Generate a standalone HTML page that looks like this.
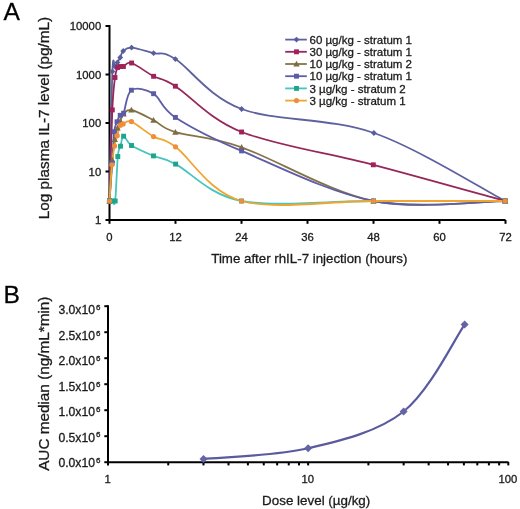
<!DOCTYPE html><html><head><meta charset="utf-8"><style>html,body{margin:0;padding:0;background:#fff;}svg{display:block;filter:blur(0.35px)} text{stroke:#1a1a1a;stroke-width:0.3px;paint-order:stroke}</style></head><body>
<svg width="520" height="509" viewBox="0 0 520 509" font-family="Liberation Sans, sans-serif">
<rect width="520" height="509" fill="#fff"/>
<text x="3.6" y="20.2" font-size="24.6" fill="#000">A</text>
<text x="3.6" y="303.0" font-size="24.6" fill="#000">B</text>
<g stroke="#000" stroke-width="2" fill="none">
<path d="M109.5,25 V220.5 M108.5,220 H505.5"/>
<path d="M105.5,26 H109"/>
<path d="M105.5,74.5 H109"/>
<path d="M105.5,123 H109"/>
<path d="M105.5,171.5 H109"/>
<path d="M105.5,220 H109"/>
<path d="M109.5,220 V223.8"/>
<path d="M175.5,220 V223.8"/>
<path d="M241.5,220 V223.8"/>
<path d="M307.5,220 V223.8"/>
<path d="M373.5,220 V223.8"/>
<path d="M439.5,220 V223.8"/>
<path d="M505.5,220 V223.8"/>
</g>
<text x="101.2" y="30.3" font-size="11.3" text-anchor="end" fill="#1a1a1a">10000</text>
<text x="101.2" y="78.8" font-size="11.3" text-anchor="end" fill="#1a1a1a">1000</text>
<text x="101.2" y="127.3" font-size="11.3" text-anchor="end" fill="#1a1a1a">100</text>
<text x="101.2" y="175.8" font-size="11.3" text-anchor="end" fill="#1a1a1a">10</text>
<text x="101.2" y="224.3" font-size="11.3" text-anchor="end" fill="#1a1a1a">1</text>
<text x="109.5" y="240.9" font-size="11.3" text-anchor="middle" fill="#1a1a1a">0</text>
<text x="175.5" y="240.9" font-size="11.3" text-anchor="middle" fill="#1a1a1a">12</text>
<text x="241.5" y="240.9" font-size="11.3" text-anchor="middle" fill="#1a1a1a">24</text>
<text x="307.5" y="240.9" font-size="11.3" text-anchor="middle" fill="#1a1a1a">36</text>
<text x="373.5" y="240.9" font-size="11.3" text-anchor="middle" fill="#1a1a1a">48</text>
<text x="439.5" y="240.9" font-size="11.3" text-anchor="middle" fill="#1a1a1a">60</text>
<text x="505.5" y="240.9" font-size="11.3" text-anchor="middle" fill="#1a1a1a">72</text>
<text x="309.3" y="262.9" font-size="13.3" text-anchor="middle" fill="#1a1a1a">Time after rhIL-7 injection (hours)</text>
<text transform="translate(48.8,118.0) rotate(-90)" font-size="15.3" text-anchor="middle" fill="#1a1a1a">Log plasma IL-7 level (pg/mL)</text>
<path d="M109.50,201.00 C109.98,179.42 111.48,93.92 112.40,71.50 C113.32,49.08 114.17,68.00 115.00,66.50 C115.83,65.00 116.53,64.00 117.40,62.50 C118.27,61.00 119.23,59.42 120.20,57.50 C121.17,55.58 121.30,52.65 123.20,51.00 C125.10,49.35 126.53,47.23 131.60,47.60 C136.67,47.97 146.30,51.28 153.60,53.20 C160.90,55.12 160.73,49.80 175.40,59.10 C190.07,68.40 208.52,96.68 241.60,109.00 C274.68,121.32 329.97,117.67 373.90,133.00 C417.83,148.33 483.32,189.67 505.20,201.00" fill="none" stroke="#5E619F" stroke-width="1.8"/>
<path d="M109.50,201.00 C109.97,185.82 111.38,130.48 112.30,109.90 C113.22,89.32 114.12,84.57 115.00,77.50 C115.88,70.43 116.72,69.33 117.60,67.50 C118.48,65.67 119.33,66.67 120.30,66.50 C121.27,66.33 121.52,67.08 123.40,66.50 C125.28,65.92 126.57,61.37 131.60,63.00 C136.63,64.63 146.30,72.43 153.60,76.30 C160.90,80.17 160.73,76.92 175.40,86.20 C190.07,95.48 208.62,118.90 241.60,132.00 C274.58,145.10 329.37,153.30 373.30,164.80 C417.23,176.30 483.22,194.97 505.20,201.00" fill="none" stroke="#962759" stroke-width="1.8"/>
<path d="M109.50,201.00 C109.95,194.17 111.32,170.25 112.20,160.00 C113.08,149.75 113.92,144.83 114.80,139.50 C115.68,134.17 116.58,131.08 117.50,128.00 C118.42,124.92 119.30,123.33 120.30,121.00 C121.30,118.67 121.65,115.83 123.50,114.00 C125.35,112.17 126.40,108.98 131.40,110.00 C136.40,111.02 146.17,116.40 153.50,120.10 C160.83,123.80 160.72,127.67 175.40,132.20 C190.08,136.73 208.58,135.83 241.60,147.30 C274.62,158.77 329.57,192.05 373.50,201.00 C417.43,209.95 483.25,201.00 505.20,201.00" fill="none" stroke="#857347" stroke-width="1.8"/>
<path d="M109.50,201.00 C109.95,194.67 111.42,174.55 112.20,163.00 C112.98,151.45 113.40,138.57 114.20,131.70 C115.00,124.83 116.00,124.53 117.00,121.80 C118.00,119.07 119.10,116.73 120.20,115.30 C121.30,113.87 121.73,117.38 123.60,113.20 C125.47,109.02 126.40,93.45 131.40,90.20 C136.40,86.95 146.27,89.17 153.60,93.70 C160.93,98.23 160.73,107.87 175.40,117.40 C190.07,126.93 208.58,136.97 241.60,150.90 C274.62,164.83 329.57,192.65 373.50,201.00 C417.43,209.35 483.25,201.00 505.20,201.00" fill="none" stroke="#5D5DA8" stroke-width="1.8"/>
<path d="M109.50,201.00 C109.98,201.00 111.45,201.00 112.40,201.00 C113.35,201.00 114.30,208.42 115.20,201.00 C116.10,193.58 116.92,165.63 117.80,156.50 C118.68,147.37 119.53,149.58 120.50,146.20 C121.47,142.82 121.77,136.32 123.60,136.20 C125.43,136.08 126.52,142.22 131.50,145.50 C136.48,148.78 146.15,152.80 153.50,155.90 C160.85,159.00 160.93,156.58 175.60,164.10 C190.27,171.62 208.52,194.85 241.50,201.00 C274.48,207.15 329.55,201.00 373.50,201.00 C417.45,201.00 483.25,201.00 505.20,201.00" fill="none" stroke="#46C5BF" stroke-width="1.8"/>
<path d="M109.50,201.00 C109.90,194.97 111.05,173.97 111.90,164.80 C112.75,155.63 113.72,150.85 114.60,146.00 C115.48,141.15 116.23,139.17 117.20,135.70 C118.17,132.23 119.42,127.17 120.40,125.20 C121.38,123.23 121.27,124.50 123.10,123.90 C124.93,123.30 126.33,119.48 131.40,121.60 C136.47,123.72 146.15,132.40 153.50,136.60 C160.85,140.80 160.83,136.07 175.50,146.80 C190.17,157.53 208.50,191.97 241.50,201.00 C274.50,210.03 329.55,201.00 373.50,201.00 C417.45,201.00 483.25,201.00 505.20,201.00" fill="none" stroke="#EFA52F" stroke-width="1.8"/>
<g><path d="M109.50,198.10L112.40,201.00L109.50,203.90L106.60,201.00Z" fill="#5A5D9C"/><path d="M112.40,68.60L115.30,71.50L112.40,74.40L109.50,71.50Z" fill="#5A5D9C"/><path d="M115.00,63.60L117.90,66.50L115.00,69.40L112.10,66.50Z" fill="#5A5D9C"/><path d="M117.40,59.60L120.30,62.50L117.40,65.40L114.50,62.50Z" fill="#5A5D9C"/><path d="M120.20,54.60L123.10,57.50L120.20,60.40L117.30,57.50Z" fill="#5A5D9C"/><path d="M123.20,48.10L126.10,51.00L123.20,53.90L120.30,51.00Z" fill="#5A5D9C"/><path d="M131.60,44.70L134.50,47.60L131.60,50.50L128.70,47.60Z" fill="#5A5D9C"/><path d="M153.60,50.30L156.50,53.20L153.60,56.10L150.70,53.20Z" fill="#5A5D9C"/><path d="M175.40,56.20L178.30,59.10L175.40,62.00L172.50,59.10Z" fill="#5A5D9C"/><path d="M241.60,106.10L244.50,109.00L241.60,111.90L238.70,109.00Z" fill="#5A5D9C"/><path d="M373.90,130.10L376.80,133.00L373.90,135.90L371.00,133.00Z" fill="#5A5D9C"/><path d="M505.20,198.10L508.10,201.00L505.20,203.90L502.30,201.00Z" fill="#5A5D9C"/></g>
<g><rect x="107.05" y="198.55" width="4.90" height="4.90" fill="#A0225A"/><rect x="109.85" y="107.45" width="4.90" height="4.90" fill="#A0225A"/><rect x="112.55" y="75.05" width="4.90" height="4.90" fill="#A0225A"/><rect x="115.15" y="65.05" width="4.90" height="4.90" fill="#A0225A"/><rect x="117.85" y="64.05" width="4.90" height="4.90" fill="#A0225A"/><rect x="120.95" y="64.05" width="4.90" height="4.90" fill="#A0225A"/><rect x="129.15" y="60.55" width="4.90" height="4.90" fill="#A0225A"/><rect x="151.15" y="73.85" width="4.90" height="4.90" fill="#A0225A"/><rect x="172.95" y="83.75" width="4.90" height="4.90" fill="#A0225A"/><rect x="239.15" y="129.55" width="4.90" height="4.90" fill="#A0225A"/><rect x="370.85" y="162.35" width="4.90" height="4.90" fill="#A0225A"/><rect x="502.75" y="198.55" width="4.90" height="4.90" fill="#A0225A"/></g>
<g><path d="M109.50,197.80L112.70,203.56L106.30,203.56Z" fill="#7F6D42"/><path d="M112.20,156.80L115.40,162.56L109.00,162.56Z" fill="#7F6D42"/><path d="M114.80,136.30L118.00,142.06L111.60,142.06Z" fill="#7F6D42"/><path d="M117.50,124.80L120.70,130.56L114.30,130.56Z" fill="#7F6D42"/><path d="M120.30,117.80L123.50,123.56L117.10,123.56Z" fill="#7F6D42"/><path d="M123.50,110.80L126.70,116.56L120.30,116.56Z" fill="#7F6D42"/><path d="M131.40,106.80L134.60,112.56L128.20,112.56Z" fill="#7F6D42"/><path d="M153.50,116.90L156.70,122.66L150.30,122.66Z" fill="#7F6D42"/><path d="M175.40,129.00L178.60,134.76L172.20,134.76Z" fill="#7F6D42"/><path d="M241.60,144.10L244.80,149.86L238.40,149.86Z" fill="#7F6D42"/><path d="M373.50,197.80L376.70,203.56L370.30,203.56Z" fill="#7F6D42"/><path d="M505.20,197.80L508.40,203.56L502.00,203.56Z" fill="#7F6D42"/></g>
<g><rect x="107.05" y="198.55" width="4.90" height="4.90" fill="#5B5BA8"/><rect x="109.75" y="160.55" width="4.90" height="4.90" fill="#5B5BA8"/><rect x="111.75" y="129.25" width="4.90" height="4.90" fill="#5B5BA8"/><rect x="114.55" y="119.35" width="4.90" height="4.90" fill="#5B5BA8"/><rect x="117.75" y="112.85" width="4.90" height="4.90" fill="#5B5BA8"/><rect x="121.15" y="110.75" width="4.90" height="4.90" fill="#5B5BA8"/><rect x="128.95" y="87.75" width="4.90" height="4.90" fill="#5B5BA8"/><rect x="151.15" y="91.25" width="4.90" height="4.90" fill="#5B5BA8"/><rect x="172.95" y="114.95" width="4.90" height="4.90" fill="#5B5BA8"/><rect x="239.15" y="148.45" width="4.90" height="4.90" fill="#5B5BA8"/><rect x="371.05" y="198.55" width="4.90" height="4.90" fill="#5B5BA8"/><rect x="502.75" y="198.55" width="4.90" height="4.90" fill="#5B5BA8"/></g>
<g><rect x="107.05" y="198.55" width="4.90" height="4.90" fill="#1FA48C"/><rect x="109.95" y="198.55" width="4.90" height="4.90" fill="#1FA48C"/><rect x="112.75" y="198.55" width="4.90" height="4.90" fill="#1FA48C"/><rect x="115.35" y="154.05" width="4.90" height="4.90" fill="#1FA48C"/><rect x="118.05" y="143.75" width="4.90" height="4.90" fill="#1FA48C"/><rect x="121.15" y="133.75" width="4.90" height="4.90" fill="#1FA48C"/><rect x="129.05" y="143.05" width="4.90" height="4.90" fill="#1FA48C"/><rect x="151.05" y="153.45" width="4.90" height="4.90" fill="#1FA48C"/><rect x="173.15" y="161.65" width="4.90" height="4.90" fill="#1FA48C"/><rect x="239.05" y="198.55" width="4.90" height="4.90" fill="#1FA48C"/><rect x="371.05" y="198.55" width="4.90" height="4.90" fill="#1FA48C"/><rect x="502.75" y="198.55" width="4.90" height="4.90" fill="#1FA48C"/></g>
<g><circle cx="109.50" cy="201.00" r="2.60" fill="#F08C3A"/><circle cx="111.90" cy="164.80" r="2.60" fill="#F08C3A"/><circle cx="114.60" cy="146.00" r="2.60" fill="#F08C3A"/><circle cx="117.20" cy="135.70" r="2.60" fill="#F08C3A"/><circle cx="120.40" cy="125.20" r="2.60" fill="#F08C3A"/><circle cx="123.10" cy="123.90" r="2.60" fill="#F08C3A"/><circle cx="131.40" cy="121.60" r="2.60" fill="#F08C3A"/><circle cx="153.50" cy="136.60" r="2.60" fill="#F08C3A"/><circle cx="175.50" cy="146.80" r="2.60" fill="#F08C3A"/><circle cx="241.50" cy="201.00" r="2.60" fill="#F08C3A"/><circle cx="373.50" cy="201.00" r="2.60" fill="#F08C3A"/><circle cx="505.20" cy="201.00" r="2.60" fill="#F08C3A"/></g>
<path d="M285.2,39.60 H306.8" stroke="#5E619F" stroke-width="1.8"/>
<path d="M296.50,36.70L299.40,39.60L296.50,42.50L293.60,39.60Z" fill="#5A5D9C"/>
<text x="309.5" y="43.70" font-size="11.5" fill="#1a1a1a">60 µg/kg - stratum 1</text>
<path d="M285.2,51.80 H306.8" stroke="#962759" stroke-width="1.8"/>
<rect x="294.05" y="49.35" width="4.90" height="4.90" fill="#A0225A"/>
<text x="309.5" y="55.90" font-size="11.5" fill="#1a1a1a">30 µg/kg - stratum 1</text>
<path d="M285.2,64.00 H306.8" stroke="#857347" stroke-width="1.8"/>
<path d="M296.50,60.80L299.70,66.56L293.30,66.56Z" fill="#7F6D42"/>
<text x="309.5" y="68.10" font-size="11.5" fill="#1a1a1a">10 µg/kg - stratum 2</text>
<path d="M285.2,76.20 H306.8" stroke="#5D5DA8" stroke-width="1.8"/>
<rect x="294.05" y="73.75" width="4.90" height="4.90" fill="#5B5BA8"/>
<text x="309.5" y="80.30" font-size="11.5" fill="#1a1a1a">10 µg/kg - stratum 1</text>
<path d="M285.2,88.40 H306.8" stroke="#46C5BF" stroke-width="1.8"/>
<rect x="294.05" y="85.95" width="4.90" height="4.90" fill="#1FA48C"/>
<text x="309.5" y="92.50" font-size="11.5" fill="#1a1a1a">3 µg/kg - stratum 2</text>
<path d="M285.2,100.60 H306.8" stroke="#EFA52F" stroke-width="1.8"/>
<circle cx="296.50" cy="100.60" r="2.60" fill="#F08C3A"/>
<text x="309.5" y="104.70" font-size="11.5" fill="#1a1a1a">3 µg/kg - stratum 1</text>
<g stroke="#000" stroke-width="2" fill="none">
<path d="M108,305.2 V462.5 M107,462.2 H508.5"/>
<path d="M104.3,462.20 H108"/>
<path d="M104.3,436.20 H108"/>
<path d="M104.3,410.20 H108"/>
<path d="M104.3,384.20 H108"/>
<path d="M104.3,358.20 H108"/>
<path d="M104.3,332.20 H108"/>
<path d="M104.3,306.20 H108"/>
<path d="M108.00,462 V465.4"/>
<path d="M168.25,462 V465.4"/>
<path d="M203.50,462 V465.4"/>
<path d="M228.50,462 V465.4"/>
<path d="M247.90,462 V465.4"/>
<path d="M263.75,462 V465.4"/>
<path d="M277.15,462 V465.4"/>
<path d="M288.75,462 V465.4"/>
<path d="M298.99,462 V465.4"/>
<path d="M308.15,462 V465.4"/>
<path d="M368.40,462 V465.4"/>
<path d="M403.65,462 V465.4"/>
<path d="M428.65,462 V465.4"/>
<path d="M448.05,462 V465.4"/>
<path d="M463.90,462 V465.4"/>
<path d="M477.30,462 V465.4"/>
<path d="M488.90,462 V465.4"/>
<path d="M499.14,462 V465.4"/>
<path d="M508.30,462 V465.4"/>
</g>
<text x="95.0" y="467.00" font-size="12.2" text-anchor="end" fill="#1a1a1a">0.0x10</text>
<text x="96.0" y="462.90" font-size="8" fill="#1a1a1a">6</text>
<text x="95.0" y="441.55" font-size="12.2" text-anchor="end" fill="#1a1a1a">0.5x10</text>
<text x="96.0" y="437.45" font-size="8" fill="#1a1a1a">6</text>
<text x="95.0" y="416.10" font-size="12.2" text-anchor="end" fill="#1a1a1a">1.0x10</text>
<text x="96.0" y="412.00" font-size="8" fill="#1a1a1a">6</text>
<text x="95.0" y="390.65" font-size="12.2" text-anchor="end" fill="#1a1a1a">1.5x10</text>
<text x="96.0" y="386.55" font-size="8" fill="#1a1a1a">6</text>
<text x="95.0" y="365.20" font-size="12.2" text-anchor="end" fill="#1a1a1a">2.0x10</text>
<text x="96.0" y="361.10" font-size="8" fill="#1a1a1a">6</text>
<text x="95.0" y="339.75" font-size="12.2" text-anchor="end" fill="#1a1a1a">2.5x10</text>
<text x="96.0" y="335.65" font-size="8" fill="#1a1a1a">6</text>
<text x="95.0" y="314.30" font-size="12.2" text-anchor="end" fill="#1a1a1a">3.0x10</text>
<text x="96.0" y="310.20" font-size="8" fill="#1a1a1a">6</text>
<text x="107.60" y="482.8" font-size="11.3" text-anchor="middle" fill="#1a1a1a">1</text>
<text x="307.75" y="482.8" font-size="11.3" text-anchor="middle" fill="#1a1a1a">10</text>
<text x="507.90" y="482.8" font-size="11.3" text-anchor="middle" fill="#1a1a1a">100</text>
<text x="316.2" y="504.6" font-size="13.4" text-anchor="middle" fill="#1a1a1a">Dose level (µg/kg)</text>
<text transform="translate(48.6,383.7) rotate(-90)" font-size="15.3" text-anchor="middle" fill="#1a1a1a">AUC median (ng/mL*min)</text>
<path d="M203.50,458.90 C220.94,457.13 274.79,456.20 308.15,448.30 C341.51,440.40 377.57,432.12 403.65,411.50 C429.72,390.88 454.44,339.08 464.60,324.60" fill="none" stroke="#5A5B9E" stroke-width="2.2"/>
<path d="M203.50,454.90L207.50,458.90L203.50,462.90L199.49,458.90Z" fill="#6263A8"/>
<path d="M308.15,444.30L312.15,448.30L308.15,452.30L304.15,448.30Z" fill="#6263A8"/>
<path d="M403.65,407.50L407.65,411.50L403.65,415.50L399.64,411.50Z" fill="#6263A8"/>
<path d="M464.60,320.60L468.60,324.60L464.60,328.60L460.60,324.60Z" fill="#6263A8"/>
</svg></body></html>
